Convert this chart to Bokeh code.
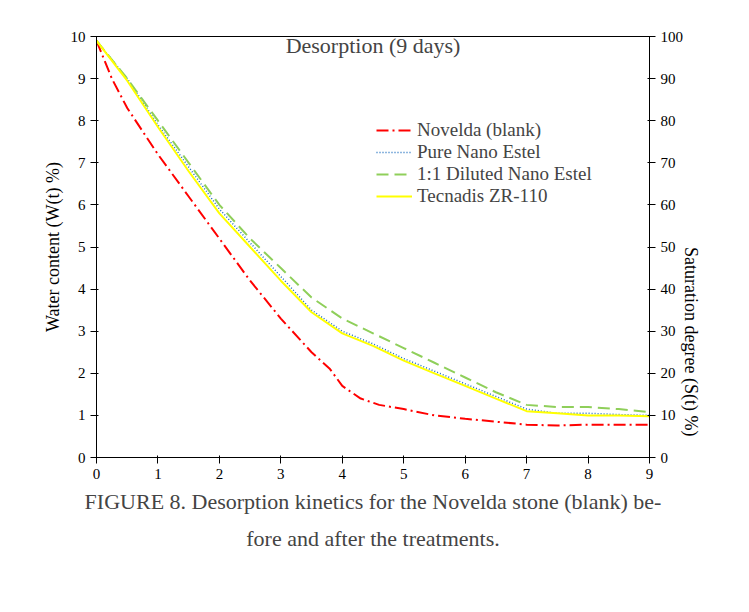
from bokeh.plotting import figure
from bokeh.models import Range1d, LinearAxis, Label, Legend, Title
from bokeh.embed import file_html
from bokeh.resources import INLINE

FONT = "Liberation Serif"

t_novelda = [0, 0.25, 0.5, 1, 1.5, 2, 2.5, 3, 3.5, 3.8, 4, 4.3, 4.6, 5, 5.5, 6, 6.5, 7, 7.5, 8, 8.5, 9]
w_novelda = [9.9, 9.0, 8.3, 7.2, 6.2, 5.2, 4.2, 3.3, 2.5, 2.1, 1.7, 1.4, 1.25, 1.15, 1.0, 0.92, 0.85, 0.78, 0.76, 0.78, 0.78, 0.78]

t_treat = [0, 0.5, 1, 1.5, 2, 2.5, 3, 3.5, 4, 4.5, 5, 5.5, 6, 6.5, 7, 7.5, 8, 8.5, 9]
w_pure = [9.9, 9.0, 7.9, 6.9, 5.9, 5.1, 4.3, 3.5, 3.0, 2.7, 2.35, 2.05, 1.75, 1.45, 1.15, 1.05, 1.05, 1.02, 1.0]
w_diluted = [9.9, 9.0, 8.0, 7.0, 6.0, 5.2, 4.5, 3.8, 3.3, 2.95, 2.6, 2.25, 1.9, 1.55, 1.25, 1.2, 1.2, 1.15, 1.08]
w_tecnadis = [9.9, 8.95, 7.85, 6.8, 5.8, 5.0, 4.2, 3.45, 2.95, 2.65, 2.3, 2.0, 1.7, 1.4, 1.1, 1.05, 1.0, 1.0, 0.98]

p = figure(width=733, height=596, output_backend="svg", toolbar_location=None,
           x_range=Range1d(0, 9), y_range=Range1d(0, 10),
           min_border_left=96, min_border_right=84, min_border_top=36, min_border_bottom=139)
p.outline_line_color = "black"
p.grid.visible = False
p.extra_y_ranges = {"s": Range1d(0, 100)}
right = LinearAxis(y_range_name="s", axis_label="Saturation degree (S(t) %)")
right.axis_label_orientation = -1.5708
p.add_layout(right, "right")
p.yaxis[0].axis_label = "Water content (W(t) %)"
p.xaxis.ticker = list(range(10))
p.yaxis[0].ticker = list(range(11))
right.ticker = list(range(0, 101, 10))
for ax in p.axis:
    ax.major_label_text_font = FONT
    ax.major_label_text_font_size = "15px"
    ax.major_label_text_color = "black"
    ax.axis_label_text_font = FONT
    ax.axis_label_text_font_size = "18px"
    ax.axis_label_text_font_style = "normal"
    ax.axis_label_text_color = "black"
    ax.minor_tick_line_color = None
    ax.axis_line_color = "black"
    ax.major_tick_line_color = "black"

r1 = p.line(t_novelda, w_novelda, line_color="#ff0000", line_width=2, line_dash="12 4 2 4")
r2 = p.line(t_treat, w_pure, line_color="#1f6fc0", line_width=1.5, line_dash="1 2")
r3 = p.line(t_treat, w_diluted, line_color="#8fcf5a", line_width=2, line_dash="12 6")
r4 = p.line(t_treat, w_tecnadis, line_color="#ffff00", line_width=2)

legend = Legend(items=[("Novelda (blank)", [r1]), ("Pure Nano Estel", [r2]),
                       ("1:1 Diluted Nano Estel", [r3]), ("Tecnadis ZR-110", [r4])],
                location=(280, 250), border_line_color=None, background_fill_alpha=0,
                label_text_font=FONT, label_text_font_size="19px",
                label_height=16, glyph_width=36, spacing=0, padding=2)
p.add_layout(legend, "center")

p.add_layout(Label(x=4.5, y=9.5, text="Desorption (9 days)", text_align="center",
                   text_font=FONT, text_font_size="22px"))
p.add_layout(Label(x=7.15, y=-1.35, text="t (days)",
                   text_font=FONT, text_font_size="18px"))

p.add_layout(Title(text="FIGURE 8. Desorption kinetics for the Novelda stone (blank) be-", align="center",
                   text_font=FONT, text_font_size="22px", text_font_style="normal"), "below")
p.add_layout(Title(text="fore and after the treatments.", align="center",
                   text_font=FONT, text_font_size="22px", text_font_style="normal"), "below")

open("out.html", "w").write(file_html(p, INLINE))
